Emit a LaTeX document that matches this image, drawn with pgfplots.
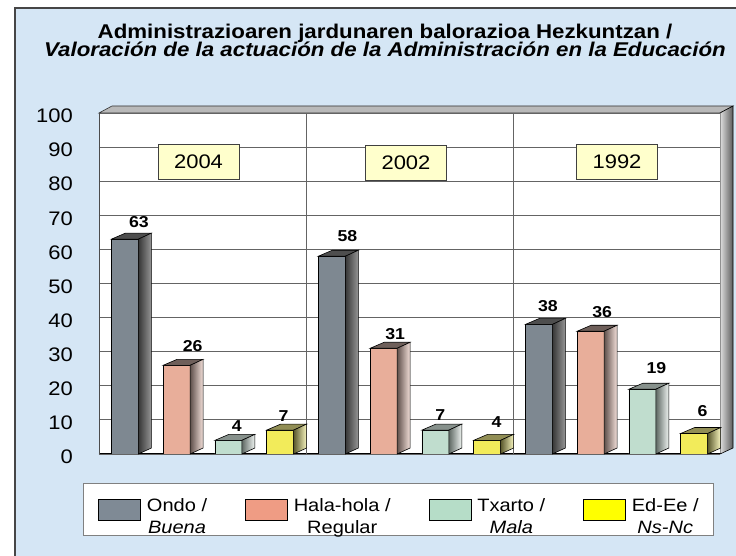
\documentclass[border=0pt]{standalone}
\usepackage{fontspec}
\setmainfont{Liberation Sans}[FakeStretch=1.12]
\usepackage{pgfplots}
\pgfplotsset{compat=1.18}
\usepackage{pgfplotstable}

\definecolor{bg}{RGB}{213,230,245}
\definecolor{framecol}{RGB}{70,70,70}
\definecolor{gridcol}{RGB}{100,100,100}
\definecolor{ondoF}{RGB}{126,136,145}
\definecolor{halaF}{RGB}{232,174,154}
\definecolor{txF}{RGB}{192,221,206}
\definecolor{edF}{RGB}{242,235,90}
\definecolor{ondoL}{RGB}{127,138,149}
\definecolor{halaL}{RGB}{239,156,132}
\definecolor{txL}{RGB}{182,221,200}
\definecolor{edL}{RGB}{255,255,0}
\definecolor{ondoT}{RGB}{78,78,78}
\definecolor{halaT}{RGB}{110,95,90}
\definecolor{txT}{RGB}{135,145,140}
\definecolor{edT}{RGB}{145,142,85}
\definecolor{ondoSL}{RGB}{55,55,55}
\definecolor{ondoSR}{RGB}{150,150,150}
\definecolor{halaSL}{RGB}{95,80,75}
\definecolor{halaSR}{RGB}{245,225,218}
\definecolor{txSL}{RGB}{95,105,100}
\definecolor{txSR}{RGB}{240,245,242}
\definecolor{edSL}{RGB}{90,88,45}
\definecolor{edSR}{RGB}{248,246,190}
\definecolor{yearbox}{RGB}{255,255,204}

\pgfdeclareplotmark{nothing}{}

\pgfplotstableread{
x y dx dy
0 63 14 11.7
4 58 15.5 14.3
8 38 9 13.3
}\ondo
\pgfplotstableread{
x y dx dy
1 26 16 14
5 31 11.5 9
9 36 11.5 13.3
}\hala
\pgfplotstableread{
x y dx dy
2 4 8.5 9
6 7 5 10
10 19 14 16
}\txarto
\pgfplotstableread{
x y dx dy
3 7 3.5 9
7 4 9.5 13.3
11 6 8.5 17.3
}\edee

\pgfplotsset{
  front/.style={ybar, bar width=27pt, bar shift=0pt, fill=#1, draw=black, line width=0.6pt, forget plot},
  faces/.style n args={3}{
    scatter, only marks, mark=nothing, forget plot,
    point meta=\thisrow{y}, point meta min=0, point meta max=100,
    scatter/@pre marker code/.code={%
      \pgfmathsetmacro\hh{0.341*\pgfplotspointmetatransformed}%
      \path[draw=black, line width=0.6pt, fill=#1] (-13.5pt,0pt) -- (13.5pt,0pt) -- (26.5pt,6pt) -- (0.5pt,6pt) -- cycle;
      \path[draw=black, line width=0.6pt, left color=#2, right color=#3] (13.5pt,0pt) -- (26.5pt,6pt) -- (26.5pt,{(6-\hh)*1pt}) -- (13.5pt,{-\hh*1pt}) -- cycle;
    },
    scatter/@post marker code/.code={},
  },
  vlabels/.style={
    forget plot, only marks, mark=nothing,
    point meta=\thisrow{y},
    nodes near coords,
    nodes near coords style={anchor=base, font=\fontsize{15.8}{16}\selectfont\bfseries, inner sep=0pt, text=black},
  },
}

\begin{document}
\begin{tikzpicture}
\useasboundingbox (-99pt,-102pt) rectangle (637pt,454pt);
\fill[white] (-99pt,-102pt) rectangle (637pt,454pt);
\draw[fill=bg, draw=framecol, line width=1.2pt] (-84pt,446pt) rectangle (645pt,-110pt);
% 3D frame: top strip and right wall
\path[fill=gray!55, draw=gray!40!black, line width=0.6pt] (0pt,341pt) -- (13pt,348pt) -- (634pt,348pt) -- (621pt,341pt) -- cycle;
\path[left color=gray!25, right color=black!65, draw=black, line width=0.6pt] (621pt,0pt) -- (634pt,6pt) -- (634pt,348pt) -- (621pt,341pt) -- cycle;

\node[anchor=base, font=\fontsize{19.9}{20}\selectfont\bfseries] at (286pt,415pt) {Administrazioaren jardunaren balorazioa Hezkuntzan /};
\node[anchor=base, font=\fontsize{19.9}{20}\selectfont\bfseries\itshape] at (286pt,397pt) {Valoración de la actuación de la Administración en la Educación};

\begin{axis}[
  at={(0pt,0pt)}, anchor=south west,
  x=51.75pt, y=3.41pt,
  xmin=-0.5, xmax=11.5, ymin=0, ymax=100,
  axis background/.style={fill=white},
  axis x line*=bottom, axis y line*=left,
  x axis line style={black, line width=1pt, -},
  y axis line style={gray!60!black, line width=0.8pt, -},
  xtick=\empty,
  extra x ticks={3.5,7.5}, extra x tick labels={},
  extra x tick style={grid=major, major tick length=0pt},
  ytick={0,10,...,100},
  ymajorgrids,
  major grid style={draw=gridcol, line width=0.9pt},
  major tick length=0pt,
  /pgf/number format/assume math mode=true,
  yticklabel style={font=\fontsize{19.6}{20}\selectfont, anchor=east, inner sep=0pt, xshift=-26pt, yshift=-3pt},
  legend image code/.code={\draw[#1] (0pt,-10.5pt) rectangle (42pt,10.5pt);},
  legend columns=4,
  legend style={at={(-0.0258,-0.085)}, anchor=north west, draw=gray, line width=0.8pt, fill=white,
    font=\fontsize{17.9}{22.5}\selectfont, inner xsep=15pt, inner ysep=12pt,
    nodes={inner sep=0pt},
    /tikz/every odd column/.append style={column sep=6pt},
    /tikz/every even column/.append style={column sep=38pt}},
]
\addplot[front=ondoF] table[x=x,y=y]{\ondo};
\addplot[faces={ondoT}{ondoSL}{ondoSR}] table[x=x,y=y]{\ondo};
\addplot[front=halaF] table[x=x,y=y]{\hala};
\addplot[faces={halaT}{halaSL}{halaSR}] table[x=x,y=y]{\hala};
\addplot[front=txF] table[x=x,y=y]{\txarto};
\addplot[faces={txT}{txSL}{txSR}] table[x=x,y=y]{\txarto};
\addplot[front=edF] table[x=x,y=y]{\edee};
\addplot[faces={edT}{edSL}{edSR}] table[x=x,y=y]{\edee};

\addplot[vlabels] table[x expr=\thisrow{x}+\thisrow{dx}/51.75, y expr=\thisrow{y}+\thisrow{dy}/3.41]{\ondo};
\addplot[vlabels] table[x expr=\thisrow{x}+\thisrow{dx}/51.75, y expr=\thisrow{y}+\thisrow{dy}/3.41]{\hala};
\addplot[vlabels] table[x expr=\thisrow{x}+\thisrow{dx}/51.75, y expr=\thisrow{y}+\thisrow{dy}/3.41]{\txarto};
\addplot[vlabels] table[x expr=\thisrow{x}+\thisrow{dx}/51.75, y expr=\thisrow{y}+\thisrow{dy}/3.41]{\edee};

\addlegendimage{fill=ondoL, draw=black, line width=0.6pt}
\addlegendentry{\begin{tabular}{@{}c@{}}Ondo /\\\textit{Buena}\end{tabular}}
\addlegendimage{fill=halaL, draw=black, line width=0.6pt}
\addlegendentry{\begin{tabular}{@{}c@{}}Hala-hola /\\Regular\end{tabular}}
\addlegendimage{fill=txL, draw=black, line width=0.6pt}
\addlegendentry{\begin{tabular}{@{}c@{}}Txarto /\\\textit{Mala}\end{tabular}}
\addlegendimage{fill=edL, draw=black, line width=0.6pt}
\addlegendentry{\begin{tabular}{@{}c@{}}Ed-Ee /\\\textit{Ns-Nc}\end{tabular}}

\node[fill=yearbox, draw=gray!50!black, line width=0.6pt, minimum width=81pt, minimum height=35pt, inner sep=0pt, font=\fontsize{19.6}{20}\selectfont] at (axis cs:1.423,85.78) {2004};
\node[fill=yearbox, draw=gray!50!black, line width=0.6pt, minimum width=81pt, minimum height=35pt, inner sep=0pt, font=\fontsize{19.6}{20}\selectfont] at (axis cs:5.432,85.48) {2002};
\node[fill=yearbox, draw=gray!50!black, line width=0.6pt, minimum width=81pt, minimum height=35pt, inner sep=0pt, font=\fontsize{19.6}{20}\selectfont] at (axis cs:9.51,85.78) {1992};
\end{axis}
\end{tikzpicture}
\end{document}
